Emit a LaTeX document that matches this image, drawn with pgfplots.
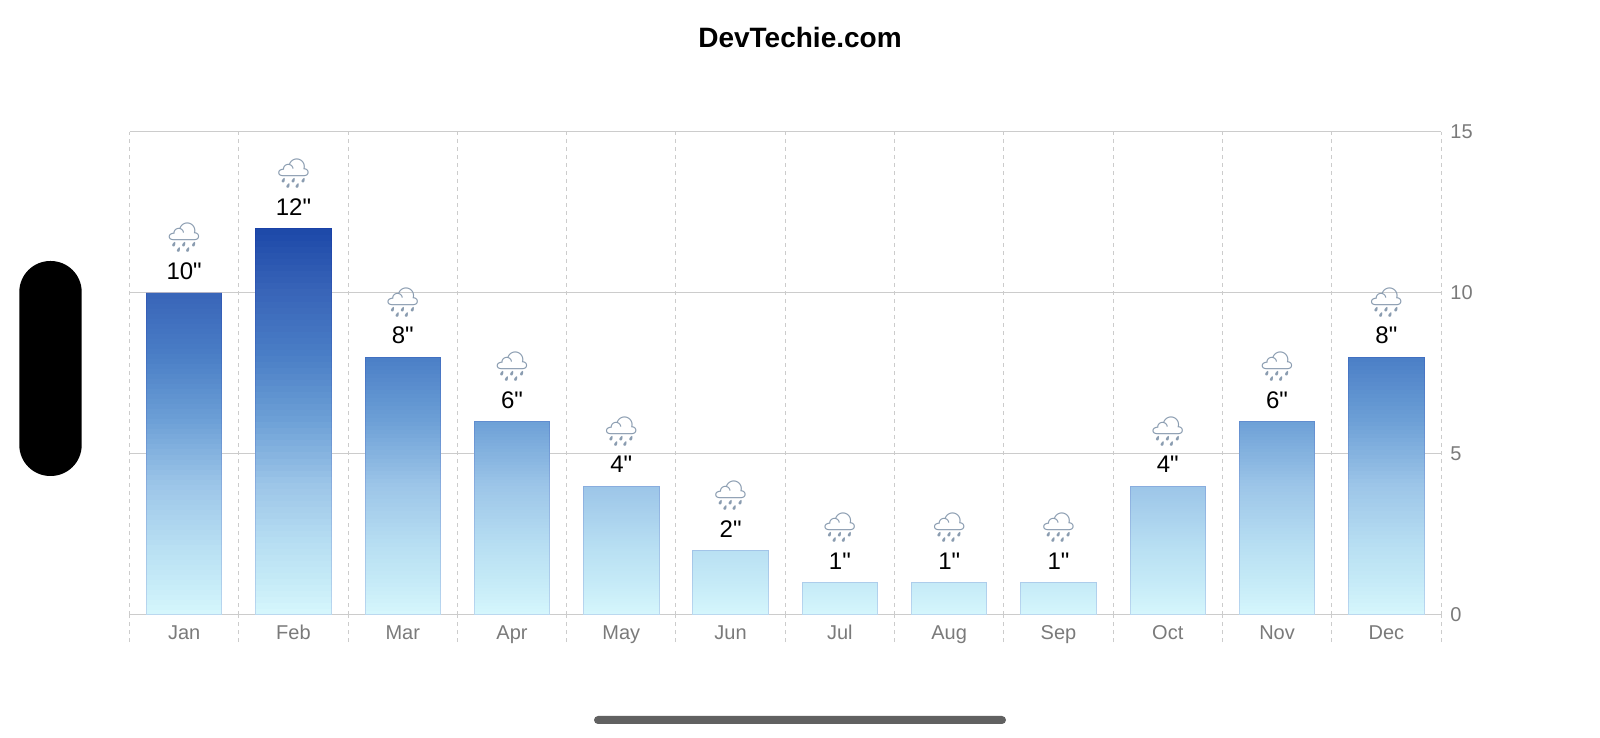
\documentclass[border=0pt]{standalone}
\usepackage{pgfplots}
\pgfplotsset{compat=1.18}
\usepgfplotslibrary{patchplots}
\usepackage{pgfplotstable}
\usepackage{fontspec}
\setmainfont{Liberation Sans}
\newfontfamily\numfont{Liberation Sans}[Ligatures=TeXOff]
\newfontfamily\emojifont{Noto Emoji}
\definecolor{gridc}{HTML}{CCCCCC}
\definecolor{tickc}{HTML}{7A7A7A}
\definecolor{cloudc}{HTML}{8A9CB0}

\pgfplotstableread{
x y c
-0.345 0 0
0.345 0 0
0.345 10 10
-0.345 10 10
0.655 0 0
1.345 0 0
1.345 12 12
0.655 12 12
1.655 0 0
2.345 0 0
2.345 8 8
1.655 8 8
2.655 0 0
3.345 0 0
3.345 6 6
2.655 6 6
3.655 0 0
4.345 0 0
4.345 4 4
3.655 4 4
4.655 0 0
5.345 0 0
5.345 2 2
4.655 2 2
5.655 0 0
6.345 0 0
6.345 1 1
5.655 1 1
6.655 0 0
7.345 0 0
7.345 1 1
6.655 1 1
7.655 0 0
8.345 0 0
8.345 1 1
7.655 1 1
8.655 0 0
9.345 0 0
9.345 4 4
8.655 4 4
9.655 0 0
10.345 0 0
10.345 6 6
9.655 6 6
10.655 0 0
11.345 0 0
11.345 8 8
10.655 8 8
}\barpatches

\pgfplotstableread{
x y
0 10
1 12
2 8
3 6
4 4
5 2
6 1
7 1
8 1
9 4
10 6
11 8
}\rain

\begin{document}
\begin{tikzpicture}
\path[use as bounding box] (0,0) rectangle (800pt,369pt);
% screenshot decorations
\fill[black, rounded corners=15.5pt] (9.65pt,131pt) rectangle (40.85pt,238.5pt);
\fill[black!62, rounded corners=2pt] (297pt,7pt) rectangle (503pt,11pt);
\node[font=\bfseries\fontsize{14}{16}\selectfont, anchor=base] at (400pt,345pt) {DevTechie.com};
\begin{axis}[
  at={(64.75pt,61.5pt)}, anchor=south west,
  scale only axis, width=655.75pt, height=241.5pt,
  xmin=-0.5, xmax=11.5, ymin=0, ymax=15,
  clip=false,
  axis x line=bottom, axis y line=right,
  axis line style={draw=none},
  xtick={0,...,11},
  xticklabels={Jan,Feb,Mar,Apr,May,Jun,Jul,Aug,Sep,Oct,Nov,Dec},
  minor xtick={-0.5,0.5,...,11.5},
  xminorgrids,
  minor x grid style={gridc, line width=0.5pt, dash pattern=on 2pt off 2pt},
  minor x tick style={gridc, line width=0.5pt, dash pattern=on 2pt off 2pt},
  minor tick length=13.5pt,
  major tick length=0pt,
  tick align=outside,
  ytick={0,5,10,15},
  ymajorgrids,
  major y grid style={gridc, line width=0.5pt},
  /pgf/number format/assume math mode=true,
  xticklabel style={font=\fontsize{10}{12}\selectfont, text=tickc, anchor=base, inner sep=0pt, yshift=-12.5pt},
  yticklabel style={font=\fontsize{10}{12}\selectfont, text=tickc, anchor=west, inner sep=0pt, xshift=4.5pt},
  colormap={rain}{rgb255(0cm)=(213,246,252) rgb255(1cm)=(197,234,247) rgb255(2cm)=(185,224,243) rgb255(4cm)=(156,197,232) rgb255(6cm)=(108,159,214) rgb255(8cm)=(74,126,198) rgb255(10cm)=(56,100,184) rgb255(12cm)=(27,71,168)},
  point meta min=0, point meta max=12,
]
\addplot[patch, patch type=bilinear, shader=interp, point meta=\thisrow{c}] table[x=x, y=y] {\barpatches};
\addplot[ybar, bar width=0.69, fill=none, draw=blue!60!black, draw opacity=0.12, line width=0.5pt] table[x=x, y=y] {\rain};
\addplot[draw=none, mark=none,
  nodes near coords={\numfont\fontsize{12}{14}\selectfont\pgfmathprintnumber{\pgfplotspointmeta}"},
  every node near coord/.append style={anchor=base, inner sep=0pt, yshift=6.7pt}] table[x=x, y=y] {\rain};
\addplot[draw=none, mark=none,
  nodes near coords={\emojifont\fontsize{14.5}{16}\selectfont 🌧},
  every node near coord/.append style={anchor=center, inner sep=0pt, yshift=27.5pt, text=cloudc}] table[x=x, y=y] {\rain};
\end{axis}
\end{tikzpicture}
\end{document}
